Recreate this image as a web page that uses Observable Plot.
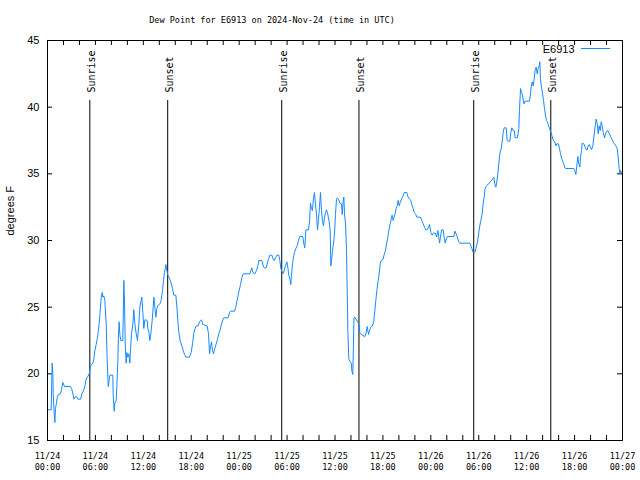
<!DOCTYPE html>
<html>
<head>
<meta charset="utf-8">
<script src="https://cdn.jsdelivr.net/npm/d3@7"></script>
<script src="https://cdn.jsdelivr.net/npm/@observablehq/plot@0.6"></script>
<style>
  html, body { margin: 0; padding: 0; background: white; }
</style>
</head>
<body>
<div id="chart"></div>
<script>
// ---- data (hours since 2024-11-24 00:00 UTC, dew point in °F) ----
const hours = [
  0.04,0.46,0.58,0.67,0.71,0.83,0.92,1.00,1.09,1.21,1.34,1.63,1.75,1.92,2.13,2.88,3.01,3.17,3.30,3.42,3.63,3.80,4.13,4.34,4.55,4.72,4.84,5.05,5.26,5.38,5.68,5.80,5.93,6.09,6.22,6.34,6.47,6.59,6.72,6.85,6.93,7.05,7.18,7.35,7.47,7.60,7.72,7.81,8.18,8.22,8.35,8.43,8.60,8.68,8.81,8.89,8.97,9.06,9.18,9.43,9.56,9.64,9.73,9.85,9.93,10.06,10.18,10.31,10.39,10.52,10.69,10.81,10.94,11.10,11.27,11.44,11.56,11.69,11.81,11.94,12.06,12.19,12.31,12.48,12.56,12.69,12.81,12.94,13.11,13.23,13.32,13.44,13.57,13.69,13.82,14.07,14.23,14.40,14.53,14.65,14.82,14.94,15.07,15.32,15.49,15.65,15.82,16.07,16.20,16.32,16.45,16.61,16.82,16.99,17.16,17.32,17.78,17.99,18.16,18.32,18.49,18.62,18.87,19.03,19.28,19.45,19.99,20.16,20.29,20.41,20.54,20.66,20.79,20.95,21.12,21.29,21.45,21.62,21.79,21.96,22.08,22.62,22.79,22.92,23.42,23.58,23.71,23.88,24.00,24.17,24.33,24.50,25.34,25.46,25.59,25.71,25.96,26.17,26.34,26.46,26.84,27.01,27.13,27.38,27.51,27.67,27.84,28.09,28.26,28.38,28.55,28.72,28.97,29.09,29.22,29.47,29.64,29.80,29.97,30.09,30.22,30.35,30.47,30.55,30.68,30.80,30.93,31.10,31.26,31.43,31.60,31.97,32.10,32.22,32.35,32.68,32.81,32.93,33.06,33.18,33.31,33.43,33.56,33.68,33.81,33.93,34.06,34.18,34.31,34.44,34.56,34.69,34.81,34.94,35.10,35.27,35.40,35.48,35.56,35.69,35.81,35.94,36.06,36.19,36.31,36.48,36.61,
  36.81,36.90,37.02,37.11,37.19,37.32,37.44,37.52,37.61,37.73,38.07,38.10,38.23,38.38,38.48,38.78,38.98,39.11,39.40,39.74,39.90,40.03,40.20,40.32,40.45,40.70,40.86,40.99,41.11,41.24,41.41,41.53,41.66,41.78,42.03,42.16,42.32,42.45,42.62,42.74,42.91,43.03,43.16,43.28,43.41,43.53,43.66,43.78,43.91,44.04,44.16,44.33,44.49,44.66,45.00,45.16,45.33,45.50,45.62,45.79,45.91,46.08,46.25,46.71,46.87,47.04,47.21,47.37,47.54,47.71,47.83,48.00,48.17,48.29,48.59,48.71,48.88,49.00,49.09,49.21,49.34,49.55,49.67,49.80,49.92,50.09,50.88,51.01,51.13,51.30,51.46,51.63,52.88,53.01,53.13,53.30,53.51,53.64,53.80,53.93,54.10,54.26,54.43,54.55,54.68,54.80,54.93,55.10,55.26,55.43,55.60,55.76,55.89,56.01,56.14,56.26,56.39,56.51,56.64,56.81,56.93,57.06,57.18,57.43,57.56,57.68,57.89,58.02,58.14,58.31,58.44,58.56,58.85,59.02,59.10,59.23,59.35,59.48,59.65,59.81,60.36,60.48,60.56,60.69,60.82,60.94,61.06,61.19,61.32,61.44,61.57,61.65,61.73,61.86,61.98,62.11,62.23,62.36,62.48,62.61,62.74,62.86,62.99,63.15,63.28,63.40,63.53,63.65,63.78,63.99,64.11,64.24,64.36,64.53,64.66,64.78,64.91,65.91,66.03,66.16,66.28,66.41,66.53,66.66,66.74,66.87,66.95,67.16,67.33,67.45,67.58,67.70,67.83,67.99,68.12,68.29,68.41,68.58,68.70,68.83,68.96,69.08,69.21,69.33,69.46,69.58,69.75,69.87,70.00,70.16,70.33,70.50,70.67,70.83,71.00,71.17,71.33,71.46,71.58,71.67,71.75,71.88
];
const dewF = [
  17.3,17.3,20.8,20.0,18.5,17.1,16.35,17.4,17.7,18.2,18.45,18.5,18.8,19.35,19.05,19.05,18.9,18.55,18.1,18.25,18.3,18.1,18.1,18.55,18.8,19.2,19.6,19.8,20.05,20.6,20.8,21.1,21.75,22.2,22.6,23.1,23.8,24.6,25.7,26.1,25.75,25.85,25.5,23.75,21.1,19.05,19.5,19.9,19.9,18.5,17.2,17.8,18.0,19.05,21.0,23.0,23.9,22.95,22.5,22.5,27.0,25.4,22.3,20.8,21.6,21.25,21.5,20.8,21.75,23.0,23.75,24.8,23.75,23.05,22.5,23.75,25.0,25.4,25.75,24.6,23.4,24.05,24.05,24.0,23.4,23.15,22.5,23.0,24.0,25.0,25.75,25.0,24.25,24.9,25.1,25.25,25.5,26.25,27.0,27.6,28.2,27.75,27.4,27.1,26.8,26.4,25.9,25.9,25.0,24.0,23.1,22.5,22.1,21.75,21.45,21.25,21.25,21.6,22.25,23.05,23.4,23.6,23.6,23.9,24.05,23.7,23.6,23.0,21.5,22.05,22.4,21.75,21.5,21.9,22.25,22.6,23.0,23.3,23.75,24.05,24.2,24.2,24.6,24.7,24.7,25.0,25.45,25.9,26.25,26.7,27.2,27.5,27.5,27.75,27.95,27.6,27.5,27.75,28.1,28.5,28.5,28.1,27.95,27.95,28.25,28.6,28.9,28.9,28.6,28.5,28.7,28.9,28.9,28.5,27.9,27.5,27.75,28.1,28.4,28.0,27.4,27.1,26.7,27.4,28.25,28.75,29.1,29.4,29.6,30.0,30.3,30.3,29.75,29.45,30.8,30.8,31.4,32.8,32.4,32.25,33.2,33.6,32.7,32.0,30.8,31.6,32.5,33.6,32.25,31.4,31.1,31.75,32.1,32.3,31.95,31.4,30.7,28.1,28.5,29.25,29.75,30.55,31.95,33.1,33.2,33.05,32.8,
  32.75,31.95,32.9,33.25,32.0,31.25,29.25,26.5,23.25,21.1,20.75,20.25,19.95,24.2,24.25,23.95,23.75,23.05,22.9,22.8,23.1,23.55,22.95,23.25,23.5,23.6,24.0,24.75,25.5,26.25,27.0,27.5,28.25,28.5,28.6,28.95,29.25,29.75,30.25,30.75,31.25,31.6,31.9,31.5,31.75,32.0,32.4,32.6,33.0,32.6,32.85,33.1,33.3,33.6,33.6,33.25,33.1,33.0,32.7,32.4,32.1,32.0,31.75,31.75,31.5,31.25,31.0,30.8,30.8,31.0,31.2,30.6,30.4,30.55,30.55,30.25,30.75,30.25,29.8,30.25,30.8,30.8,30.25,29.8,30.1,30.3,30.3,30.7,30.55,30.3,29.95,29.8,29.8,29.6,29.4,29.1,29.1,29.4,29.75,30.25,31.0,31.5,32.0,32.75,33.25,33.9,34.05,34.2,34.25,34.4,34.5,34.65,34.75,34.25,34.0,34.4,35.0,35.75,36.5,36.9,37.4,38.1,38.45,38.45,37.5,37.45,37.45,38.1,38.45,38.25,38.25,37.7,37.7,38.4,39.75,41.4,41.1,40.9,40.25,40.45,40.45,41.0,41.5,41.9,41.6,42.1,42.8,43.0,42.5,42.9,43.1,43.4,42.1,41.5,41.05,40.5,39.9,39.4,39.0,38.9,38.6,38.4,38.2,37.9,37.6,37.45,37.4,37.1,37.25,37.25,36.9,36.5,36.2,35.9,35.7,35.45,35.4,35.4,35.25,34.95,35.6,36.3,35.75,35.5,36.25,36.75,37.3,37.25,37.0,36.8,36.8,37.1,37.2,37.0,36.8,37.1,37.75,38.6,39.1,38.8,38.0,38.6,38.25,38.9,38.6,38.1,37.7,38.0,38.2,38.25,38.05,37.8,37.6,37.4,37.25,37.1,36.9,36.25,35.4,35.0,35.25,35.1
];
const sunHours = [5.30, 15.05, 29.33, 39.00, 53.37, 63.02];
const sunNames = ["Sunrise", "Sunset", "Sunrise", "Sunset", "Sunrise", "Sunset"];
const yTicks = [15, 20, 25, 30, 35, 40, 45];
const xLabelHours = [0, 6, 12, 18, 24, 30, 36, 42, 48, 54, 60, 66, 72];
const xTickHours = d3.range(0, 73, 2);
const titleText = "Dew Point for E6913 on 2024-Nov-24 (time in UTC)";
const yLabelText = "degrees F";
const seriesName = "E6913";

// ---- build ----
const t0 = Date.UTC(2024, 10, 24);
const toDate = h => new Date(t0 + h * 3600e3);
const data = hours.map((h, i) => ({time: toDate(h), value: dewF[i]}));
const sun = sunHours.map((h, i) => ({time: toDate(h), name: sunNames[i]}));
const fmt = d3.utcFormat("%m/%d\n%H:%M");

const lineColor = "#168aff";
const mono = "'DejaVu Sans Mono', 'Liberation Mono', monospace";
const sans = "'Liberation Sans', Arial, sans-serif";

const chart = Plot.plot({
  width: 640,
  height: 480,
  marginLeft: 47,
  marginRight: 18,
  marginTop: 40,
  marginBottom: 40,
  style: {background: "white", color: "black", fontFamily: mono, fontSize: "8.5px"},
  x: {type: "utc", domain: [toDate(0), toDate(72)], axis: null},
  y: {domain: [15, 45], axis: null},
  marks: [
    // tick marks (inside, mirrored)
    Plot.ruleX(xTickHours.map(toDate), {insetTop: 395, stroke: "black"}),
    Plot.ruleX(xTickHours.map(toDate), {insetBottom: 395, stroke: "black"}),
    Plot.ruleY(yTicks, {insetRight: 570, stroke: "black"}),
    Plot.ruleY(yTicks, {insetLeft: 570, stroke: "black"}),
    // sunrise / sunset
    Plot.ruleX(sun, {x: "time", insetTop: 60, stroke: "black", strokeWidth: 1}),
    Plot.text(sun, {x: "time", text: "name", frameAnchor: "top", rotate: -90, textAnchor: "start",
      lineAnchor: "middle", dy: 52, dx: 2, fontFamily: mono, fontSize: 10}),
    // data
    Plot.line(data, {x: "time", y: "value", stroke: lineColor, strokeWidth: 1}),
    Plot.frame({stroke: "black"}),
    // x labels
    Plot.text(xLabelHours.map(toDate), {x: d => d, text: d => fmt(d), frameAnchor: "bottom",
      lineAnchor: "middle", dy: 20.5, lineHeight: 1.3, fontFamily: mono, fontSize: 8.5}),
    // y labels
    Plot.text(yTicks, {y: d => d, text: d => String(d), frameAnchor: "left", textAnchor: "end",
      dx: -8, fontFamily: sans, fontSize: 11}),
    // y axis title
    Plot.text([yLabelText], {frameAnchor: "left", rotate: -90, dx: -37, dy: -5, fontFamily: sans, fontSize: 11}),
    // title
    Plot.text([titleText], {frameAnchor: "top", lineAnchor: "middle", dx: -63, dy: -20, fontFamily: mono, fontSize: 8.5}),
    // legend text
    Plot.text([seriesName], {frameAnchor: "top-right", textAnchor: "end", lineAnchor: "middle", dx: -48, dy: 9, fontFamily: sans, fontSize: 11})
  ]
});

// legend line sample
d3.select(chart).append("line")
  .attr("x1", 581).attr("x2", 610).attr("y1", 48.5).attr("y2", 48.5)
  .attr("stroke", lineColor).attr("stroke-width", 1);

document.getElementById("chart").appendChild(chart);
</script>
</body>
</html>
